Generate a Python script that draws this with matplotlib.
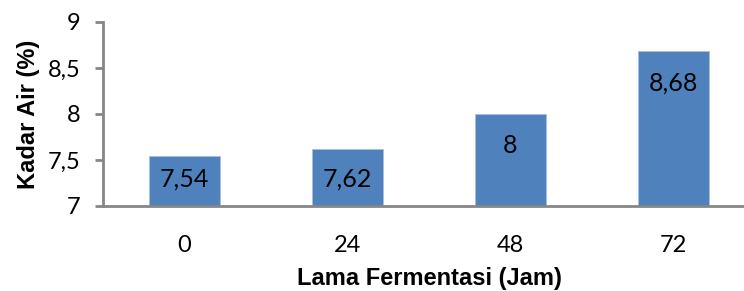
import numpy as np
import matplotlib.pyplot as plt

# data
jam = ["0", "24", "48", "72"]
kadar_air = [7.54, 7.62, 8.0, 8.68]
label_txt = ["7,54", "7,62", "8", "8,68"]
yticks = [7, 7.5, 8, 8.5, 9]
ytick_txt = ["7", "7,5", "8", "8,5", "9"]

fig = plt.figure(figsize=(7.44, 2.91), dpi=100)
ax = fig.add_axes([103/744, 1 - 206/291, 652/744, 184/291])

x = np.arange(len(jam))
ax.bar(x, np.array(kadar_air) - 7, bottom=7, width=0.44,
       color="#4F81BD", edgecolor="#A7C0DE", linewidth=0.6, zorder=2)

for xi, v, t in zip(x, kadar_air, label_txt):
    ax.text(xi, max(v - 0.34, 7.29), t, ha="center", va="center",
            fontsize=18, family="Lato", color="black", zorder=3)

ax.set_xlim(-0.5, 3.5)
ax.set_ylim(7, 9)
ax.set_xticks(x)
ax.set_xticklabels(jam, family="Lato", fontsize=17)
ax.set_yticks(yticks)
ax.set_yticklabels(ytick_txt, family="Lato", fontsize=17)
ax.tick_params(axis="x", length=0, pad=21)
ax.tick_params(axis="y", length=6, width=2, color="#868686", pad=10)

for s in ["top", "right"]:
    ax.spines[s].set_visible(False)
for s in ["left", "bottom"]:
    ax.spines[s].set_color("#868686")
    ax.spines[s].set_linewidth(2)

ax.set_xlabel("Lama Fermentasi (Jam)", family="Liberation Sans",
              fontweight="bold", fontsize=17, labelpad=8)
ax.set_ylabel("Kadar Air (%)", family="Liberation Sans",
              fontweight="bold", fontsize=17, labelpad=6)

fig.savefig("out.png", dpi=100)
